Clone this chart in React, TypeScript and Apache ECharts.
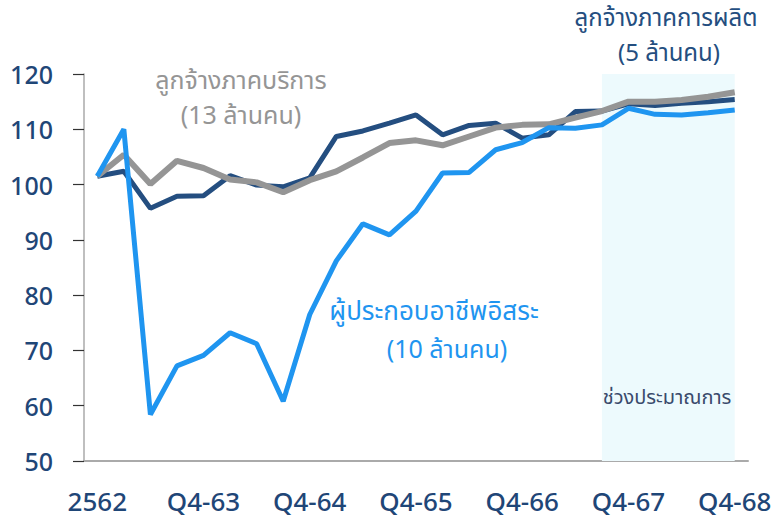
import React, { useEffect, useRef } from "react";
import * as echarts from "echarts";

const categories = [
  "2562",
  "Q1-63", "Q2-63", "Q3-63", "Q4-63",
  "Q1-64", "Q2-64", "Q3-64", "Q4-64",
  "Q1-65", "Q2-65", "Q3-65", "Q4-65",
  "Q1-66", "Q2-66", "Q3-66", "Q4-66",
  "Q1-67", "Q2-67", "Q3-67", "Q4-67",
  "Q1-68", "Q2-68", "Q3-68", "Q4-68",
];

const manufacturing = [
  101.5, 102.4, 95.7, 97.9, 98.0, 101.6, 99.9, 99.6, 101.2, 108.7, 109.7, 111.1, 112.6,
  109.0, 110.7, 111.1, 108.4, 109.0, 113.2, 113.3, 114.6, 114.3, 114.7, 115.0, 115.4,
];

const services = [
  101.5, 105.4, 100.1, 104.3, 103.0, 100.9, 100.4, 98.6, 100.8, 102.4, 104.9, 107.5, 108.0,
  107.1, 108.7, 110.3, 110.8, 110.9, 112.1, 113.3, 115.0, 115.0, 115.3, 115.9, 116.7,
];

const selfEmployed = [
  101.5, 110.0, 58.4, 67.2, 69.1, 73.2, 71.2, 60.8, 76.5, 86.2, 92.9, 90.9, 95.2,
  102.1, 102.2, 106.3, 107.6, 110.3, 110.2, 110.8, 113.8, 112.7, 112.6, 113.0, 113.5,
];

const forecastStart = "Q3-67";
const forecastEnd = "Q4-68";

const yMin = 50;
const yMax = 120;
const yStep = 10;

const thaiFont = "'Noto Sans Thai', 'Noto Sans', sans-serif";

function label(text: string, x: number, y: number, fill: string, fontSize: number) {
  return {
    type: "text",
    x,
    y,
    z: 100,
    style: {
      text,
      fill,
      fontSize,
      lineHeight: fontSize,
      fontFamily: thaiFont,
      align: "center",
      verticalAlign: "middle",
    },
  };
}

export default function App() {
  const ref = useRef<HTMLDivElement>(null);

  useEffect(() => {
    if (!ref.current) return;
    const chart = echarts.init(ref.current, undefined, { renderer: "svg" });
    const navy = "#244e80";
    const gray = "#959595";
    const blue = "#1f95f0";
    const tickColor = "#1f4677";

    chart.setOption({
      animation: false,
      backgroundColor: "#ffffff",
      grid: { left: 84, right: 30, top: 74, bottom: 59 },
      xAxis: {
        type: "category",
        data: categories,
        boundaryGap: true,
        axisLine: { show: true, lineStyle: { color: "#aaaaaa", width: 2 } },
        axisTick: { show: false },
        axisLabel: {
          interval: 3,
          fontSize: 26,
          fontWeight: 500,
          color: tickColor,
          margin: 27,
          fontFamily: "'Noto Sans', sans-serif",
        },
        splitLine: { show: false },
      },
      yAxis: {
        type: "value",
        min: yMin,
        max: yMax,
        interval: yStep,
        axisLine: { show: true, lineStyle: { color: "#aaaaaa", width: 1.5 } },
        axisTick: { show: true, length: 11, lineStyle: { color: "#333333", width: 1.2 } },
        axisLabel: {
          fontSize: 25,
          fontWeight: 500,
          color: tickColor,
          margin: 31,
          fontFamily: "'Noto Sans', sans-serif",
        },
        splitLine: { show: false },
      },
      series: [
        {
          name: "ลูกจ้างภาคการผลิต",
          type: "line",
          data: manufacturing,
          symbol: "none",
          lineStyle: { color: navy, width: 5 },
          z: 2,
          markArea: {
            silent: true,
            itemStyle: { color: "#edfafd" },
            data: [[{ xAxis: forecastStart, yAxis: yMax }, { xAxis: forecastEnd, yAxis: yMin }]],
          },
        },
        {
          name: "ลูกจ้างภาคบริการ",
          type: "line",
          data: services,
          symbol: "none",
          lineStyle: { color: gray, width: 6 },
          z: 3,
        },
        {
          name: "ผู้ประกอบอาชีพอิสระ",
          type: "line",
          data: selfEmployed,
          symbol: "none",
          lineStyle: { color: blue, width: 5 },
          z: 4,
        },
      ],
      graphic: [
        label("ลูกจ้างภาคบริการ", 241, 81, gray, 25),
        label("(13 ล้านคน)", 241, 116, gray, 25),
        label("ลูกจ้างภาคการผลิต", 666, 19, navy, 24),
        label("(5 ล้านคน)", 669, 54, navy, 24),
        label("ผู้ประกอบอาชีพอิสระ", 434, 312, blue, 26),
        label("(10 ล้านคน)", 447, 350, blue, 25),
        label("ช่วงประมาณการ", 667, 398, "#3a4a6c", 20),
      ],
    });

    return () => chart.dispose();
  }, []);

  return (
    <div
      ref={ref}
      style={{ position: "fixed", left: 0, top: 0, width: 778, height: 520 }}
    />
  );
}
